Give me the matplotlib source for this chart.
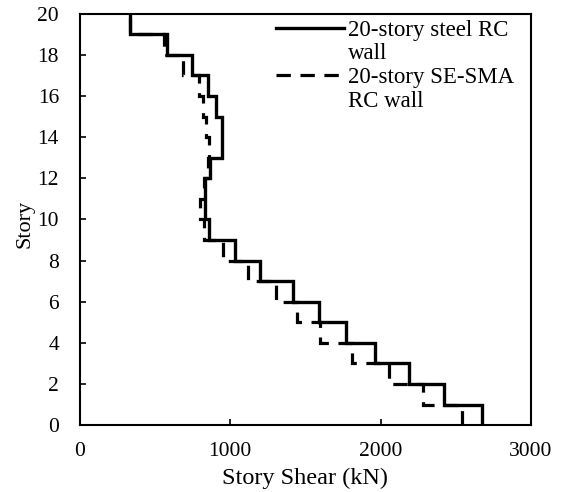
import numpy as np
import matplotlib
matplotlib.use("Agg")
import matplotlib.pyplot as plt
from matplotlib.lines import Line2D

plt.rcParams['font.family'] = ['Liberation Serif', 'DejaVu Serif']

stories = np.arange(0, 21)
steel_shear = [2673, 2420, 2187, 1960, 1773, 1593, 1420, 1200, 1033, 860,
               833, 833, 867, 947, 947, 907, 853, 747, 580, 333]
sma_shear = [2540, 2280, 2053, 1807, 1600, 1447, 1307, 1120, 953, 827,
             800, 827, 853, 860, 840, 820, 790, 687, 560, 333]
label_lines = [["20-story steel RC", "wall"], ["20-story SE-SMA", "RC wall"]]

fig = plt.figure(figsize=(5.66, 4.92), dpi=100)
ax = fig.add_axes([0.141, 0.136, 0.797, 0.836])

dash = (0, (4.5, 3))
ax.stairs(sma_shear, stories, orientation='horizontal', baseline=None,
          color='black', linewidth=2.3, linestyle=dash)
ax.stairs(steel_shear, stories, orientation='horizontal', baseline=None,
          color='black', linewidth=2.4)

ax.set_xlim(0, 3000)
ax.set_ylim(0, 20)
ax.set_xticks([0, 1000, 2000, 3000])
ax.set_yticks(np.arange(0, 21, 2))
ax.tick_params(direction='in', labelsize=15.5, length=4, width=1.2)
ax.tick_params(axis='y', pad=15)
ax.tick_params(axis='x', pad=12)
for s in ax.spines.values():
    s.set_linewidth(1.5)
ax.set_xlabel("Story Shear (kN)", fontsize=17.5)
ax.set_ylabel("Story", fontsize=16)
ax.xaxis.set_label_coords(0.5, -0.105)
ax.yaxis.set_label_coords(-0.100, 0.49)

blank = Line2D([], [], color='none')
handles = [Line2D([], [], color='black', lw=2.4), blank,
           Line2D([], [], color='black', lw=2.3, linestyle=dash), blank]
texts = [label_lines[0][0], label_lines[0][1], label_lines[1][0], label_lines[1][1]]
leg = ax.legend(handles, texts, loc='upper left', bbox_to_anchor=(0.436, 0.986),
                frameon=False, fontsize=16.5, handlelength=2.95,
                borderaxespad=0.0, borderpad=0.0, labelspacing=0.12,
                handletextpad=0.15)

fig.savefig("out.png", dpi=100)
